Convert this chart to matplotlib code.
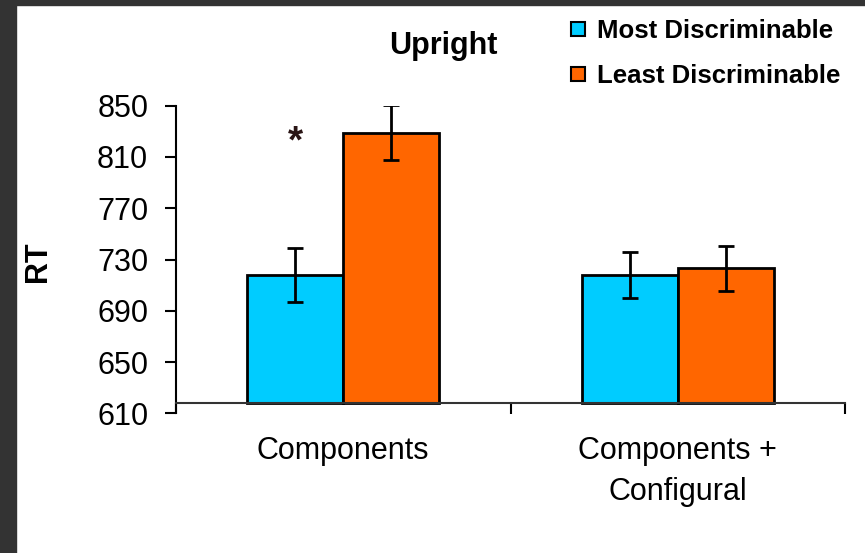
import matplotlib.pyplot as plt
import numpy as np
from matplotlib.patches import Rectangle
from matplotlib.lines import Line2D

plt.rcParams['font.family'] = ['Liberation Sans', 'DejaVu Sans']

# data
categories = ['Components', 'Components +\nConfigural']
series = ['Most Discriminable', 'Least Discriminable']
most_rt = [718, 718]
least_rt = [829, 723]
most_err = [21, 17.7]
least_err = [21.5, 17.7]
yticks = [610, 650, 690, 730, 770, 810, 850]

colors = ['#00ccff', '#ff6600']
base = 618.3   # where the category axis crosses
w = 0.287

fig = plt.figure(figsize=(8.65, 5.53), dpi=100)
ax = fig.add_axes([176/865, 1 - 413.3/553, (845 - 176)/865, (413.3 - 105.7)/553])

x = np.arange(len(categories))
for off, vals, errs, c in [(-w/2, most_rt, most_err, colors[0]),
                           (w/2, least_rt, least_err, colors[1])]:
    vals = np.array(vals)
    ax.bar(x + off, vals - base, bottom=base, width=w, color=c,
           edgecolor='black', linewidth=2, zorder=2)
    ax.errorbar(x + off, vals, yerr=errs, fmt='none', ecolor='black',
                elinewidth=2, capsize=6, capthick=2, zorder=3)

ax.set_xlim(-0.5, 1.5)
ax.set_ylim(610, 850)
ax.set_yticks(yticks)
ax.set_xticks(x)
ax.set_xticks([-0.5, 0.5, 1.5], minor=True)
ax.tick_params(axis='x', which='major', length=0, pad=24, labelsize=22)
ax.tick_params(axis='x', which='minor', length=8, width=1.5, direction='out')
ax.tick_params(axis='y', length=8, width=1.5, pad=12, labelsize=22)
ax.set_xticklabels(categories)

for s in ['top', 'right']:
    ax.spines[s].set_visible(False)
ax.spines['bottom'].set_position(('data', base))
ax.spines['left'].set_linewidth(1.5)
ax.spines['bottom'].set_linewidth(1.5)
ax.spines['bottom'].set_color('#333333')

# significance star
ax.text(-w/2, 821, '*', ha='center', va='center', fontsize=28,
        fontweight='bold', color='#2a1515')

fig.text(38/865, 1 - 262/553, 'RT', rotation=90, ha='center', va='center',
         fontsize=22, fontweight='bold')
fig.text(443/865, 1 - 46/553, 'Upright', ha='center', va='center',
         fontsize=22, fontweight='bold')

handles = [Line2D([], [], ls='none', marker='s', markersize=10,
                  markerfacecolor=c, markeredgecolor='black', markeredgewidth=1.5)
           for c in colors]
fig.legend(handles, series, loc='upper left', bbox_to_anchor=(570/865, 1 - 19/553),
           frameon=False, handlelength=0.6, handletextpad=0.45, labelspacing=0.8,
           borderpad=0, borderaxespad=0,
           prop={'size': 18.5, 'weight': 'bold'})

# dark frame at left and top edges
fig.patches.append(Rectangle((0, 0), 16/865, 1, transform=fig.transFigure,
                             color='#333333', zorder=10))
fig.patches.append(Rectangle((0, 1 - 5/553), 1, 5/553, transform=fig.transFigure,
                             color='#333333', zorder=10))

fig.canvas.draw()
for tk in ax.xaxis.get_major_ticks():
    tk.label1.set_linespacing(1.5)

fig.savefig('out.png', dpi=100)
